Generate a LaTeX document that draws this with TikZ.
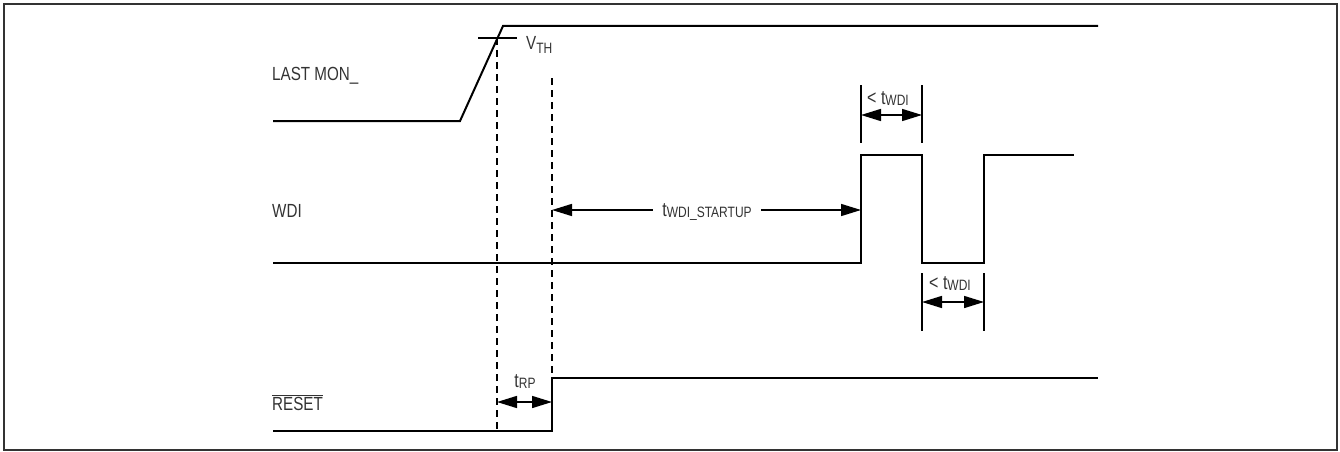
\documentclass[tikz,border=0pt]{standalone}
\usepackage{fontspec}
\setmainfont{Liberation Sans}[FakeStretch=0.8]
\usetikzlibrary{arrows.meta}
\definecolor{txt}{HTML}{333333}
\definecolor{frm}{HTML}{333333}
\newcommand{\lowsub}[1]{\raisebox{-4pt}{\fontsize{15}{15}\selectfont #1}}
\newcommand{\tsub}[1]{\raisebox{-1pt}{\fontsize{15}{15}\selectfont #1}}
\begin{document}
\begin{tikzpicture}[x=1pt,y=-1pt,
 sig/.style={line width=2pt, line join=miter},
 tick/.style={line width=1.5pt},
 guide/.style={line width=1.5pt, dash pattern=on 7pt off 5pt},
 arr/.style={line width=1.5pt, {Triangle[length=20pt,width=12pt]}-{Triangle[length=20pt,width=12pt]}},
 lbl/.style={inner sep=0pt, text=txt, font=\fontsize{19}{22}\selectfont},
 tlbl/.style={inner sep=0pt, text=txt, font=\fontsize{20}{22}\selectfont},
]
\useasboundingbox (0,0) rectangle (1340,452);
\draw[frm, line width=2.5pt] (4,4) rectangle (1337,450);

% LAST MON_ signal
\coordinate (m0) at (273,121);
\coordinate (m1) at (460,121);
\coordinate (m2) at (503,26);
\coordinate (m3) at (1098,26);
\draw[sig] (m0) -- (m1) -- (m2) -- (m3);
\coordinate (th0) at (478,38);
\coordinate (th1) at (517,38);
\draw[sig] (th0) -- (th1);

% WDI signal
\coordinate (w0) at (273,263);
\coordinate (w1) at (861,263);
\coordinate (w2) at (861,155);
\coordinate (w3) at (922,155);
\coordinate (w4) at (922,263);
\coordinate (w5) at (984,263);
\coordinate (w6) at (984,155);
\coordinate (w7) at (1074,155);
\draw[sig] (w0) -- (w1) -- (w2) -- (w3) -- (w4) -- (w5) -- (w6) -- (w7);

% RESET signal
\coordinate (r0) at (273,431);
\coordinate (r1) at (552,431);
\coordinate (r2) at (552,378);
\coordinate (r3) at (1098,378);
\draw[sig] (r0) -- (r1) -- (r2) -- (r3);

% dashed guides
\coordinate (d1a) at (497,38);
\coordinate (d1b) at (497,432);
\coordinate (d2a) at (552,78);
\coordinate (d2b) at (552,376);
\draw[guide] (d1a) -- (d1b);
\draw[guide] (d2a) -- (d2b);

% tRP arrow
\coordinate (rpa) at (497,402);
\coordinate (rpb) at (552,402);
\draw[arr] (rpa) -- (rpb);
\node[tlbl, anchor=base] (trp) at (525,387) {t\tsub{RP}};

% startup arrow
\coordinate (sa) at (552,210);
\coordinate (sb) at (861,210);
\draw[arr] (sa) -- (sb);
\node[tlbl, anchor=base, fill=white, inner xsep=9pt, inner ysep=2pt] (tst) at (707,216) {t\tsub{WDI\_STARTUP}};

% upper tWDI
\coordinate (u1a) at (861,85);
\coordinate (u1b) at (861,143);
\coordinate (u2a) at (922,85);
\coordinate (u2b) at (922,143);
\draw[tick] (u1a) -- (u1b);
\draw[tick] (u2a) -- (u2b);
\coordinate (ua) at (861,115);
\coordinate (ub) at (922,115);
\draw[arr] (ua) -- (ub);
\node[tlbl, anchor=base] (tw1) at (888,104) {< t\tsub{WDI}};

% lower tWDI
\coordinate (l1a) at (922,273);
\coordinate (l1b) at (922,331);
\coordinate (l2a) at (984,273);
\coordinate (l2b) at (984,331);
\draw[tick] (l1a) -- (l1b);
\draw[tick] (l2a) -- (l2b);
\coordinate (la) at (922,302);
\coordinate (lb) at (984,302);
\draw[arr] (la) -- (lb);
\node[tlbl, anchor=base] (tw2) at (950,289) {< t\tsub{WDI}};

% signal names
\node[lbl, anchor=base west] (nmon) at (272,81) {LAST MON\_};
\node[lbl, anchor=base west] (nwdi) at (272,217) {WDI};
\node[lbl, anchor=base west] (nrst) at (272,410) {$\overline{\hbox{RESET}}$};
\node[lbl, anchor=base west] (vth) at (526,49) {V\lowsub{TH}};
\end{tikzpicture}
\end{document}
